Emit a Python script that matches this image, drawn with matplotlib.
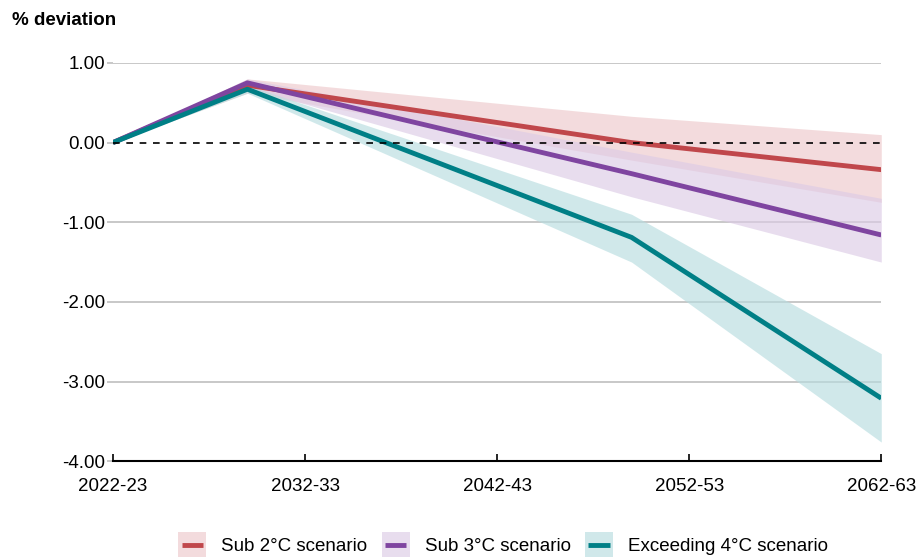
import matplotlib.pyplot as plt
from matplotlib.patches import Rectangle
from matplotlib.lines import Line2D
from matplotlib.legend_handler import HandlerBase

plt.rcParams['font.family'] = ['Liberation Sans', 'DejaVu Sans']

# years since 2022-23
years = [0, 7, 27, 40]
tick_pos = [0, 10, 20, 30, 40]
tick_labels = ['2022-23', '2032-33', '2042-43', '2052-53', '2062-63']

sub2 = [0.0, 0.72, 0.0, -0.34]
sub2_lo = [0.0, 0.62, -0.22, -0.75]
sub2_hi = [0.0, 0.80, 0.33, 0.10]

sub3 = [0.0, 0.75, -0.39, -1.16]
sub3_lo = [0.0, 0.69, -0.68, -1.50]
sub3_hi = [0.0, 0.80, -0.12, -0.70]

exc4 = [0.0, 0.67, -1.19, -3.21]
exc4_lo = [0.0, 0.62, -1.50, -3.76]
exc4_hi = [0.0, 0.72, -0.90, -2.65]

labels = ['Sub 2°C scenario', 'Sub 3°C scenario', 'Exceeding 4°C scenario']
line_colors = ['#C0474B', '#7F45A0', '#007F86']
band_colors = ['#EEC9CB', '#DCCBE6', '#B7DDE0']
BAND_ALPHA = 0.65


class BandLineHandler(HandlerBase):
    """Shaded square with a short line through the middle."""
    def create_artists(self, legend, orig_handle, xdescent, ydescent,
                       width, height, fontsize, trans):
        lc, bc = orig_handle
        rect = Rectangle((-xdescent, -ydescent - height * 0.25), width, height * 1.5,
                         facecolor=bc, alpha=BAND_ALPHA, edgecolor='none', transform=trans)
        y = -ydescent + height / 2
        line = Line2D([-xdescent + width * 0.12, -xdescent + width * 0.88], [y, y],
                      color=lc, linewidth=3.5, solid_capstyle='butt', transform=trans)
        return [rect, line]


fig = plt.figure(figsize=(9.18, 5.57), dpi=100)
ax = fig.add_axes([0.123, 0.172, 0.837, 0.715])

for y in [1, -1, -2, -3]:
    ax.axhline(y, color='#bfbfbf', linewidth=1.2, zorder=0)
ax.axhline(0, color='black', linewidth=1.2, linestyle=(0, (4, 4)), zorder=4)

series = [(sub2, sub2_lo, sub2_hi), (sub3, sub3_lo, sub3_hi), (exc4, exc4_lo, exc4_hi)]
for (mid, lo, hi), bc in zip(series, band_colors):
    ax.fill_between(years, lo, hi, color=bc, alpha=BAND_ALPHA, linewidth=0, zorder=1)
for (mid, lo, hi), lc in zip(series, line_colors):
    ax.plot(years, mid, color=lc, linewidth=3.5, zorder=3, solid_capstyle='butt')

ax.set_xlim(0, 40)
ax.set_ylim(-4, 1)
ax.set_xticks(tick_pos)
ax.set_xticklabels(tick_labels)
ax.set_yticks([1, 0, -1, -2, -3, -4])
ax.set_yticklabels(['%.2f' % v for v in [1, 0, -1, -2, -3, -4]])

for s in ['top', 'right', 'left']:
    ax.spines[s].set_visible(False)
ax.spines['bottom'].set_linewidth(1.5)
ax.tick_params(axis='x', direction='in', length=5, width=1.2, labelsize=13.5, pad=12)
ax.tick_params(axis='y', length=4, width=1.2, color='#bfbfbf', labelsize=13.5, pad=1.5)

fig.text(0.013, 0.963, '% deviation', fontsize=13.5, fontweight='bold', va='center')

handles = list(zip(line_colors, band_colors))
fig.legend(handles, labels, handler_map={tuple: BandLineHandler()},
           loc='center', bbox_to_anchor=(0.548, 0.02), ncol=3, frameon=False,
           fontsize=13.5, handlelength=1.5, handleheight=1.0, columnspacing=0.75,
           handletextpad=0.8)

fig.savefig('out.png', dpi=100)
